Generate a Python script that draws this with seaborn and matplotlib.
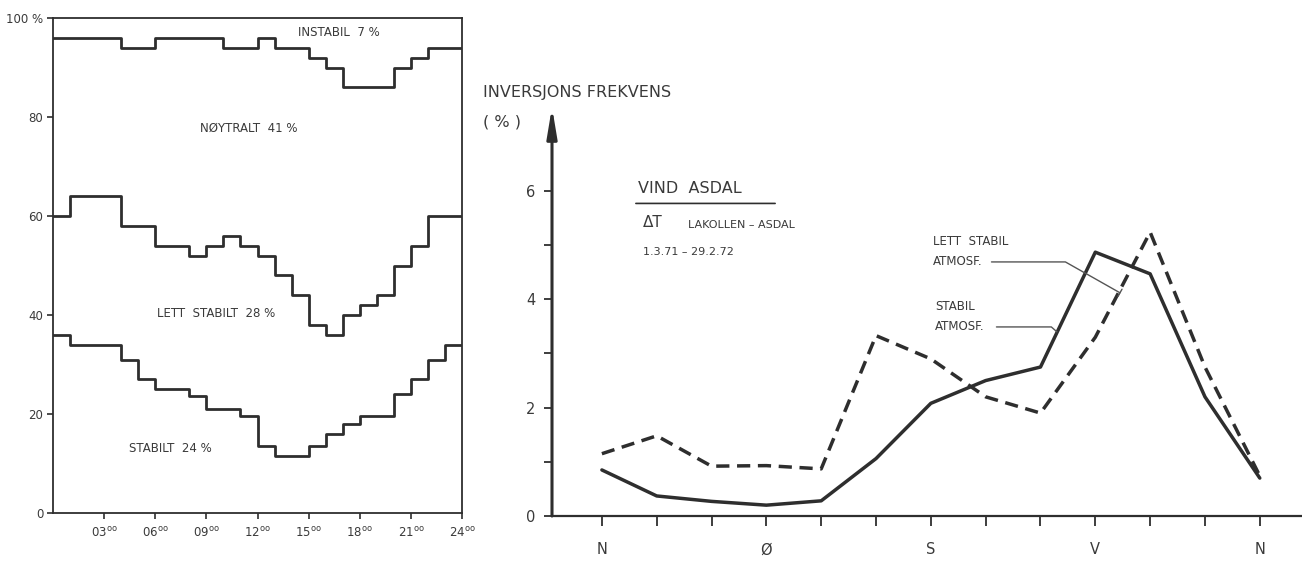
import matplotlib
matplotlib.use("Agg")
import matplotlib.pyplot as plt
import pandas as pd
import seaborn as sns

# ---------------- data: left panel (cumulative % boundaries per hour) ----------------
hours = list(range(24))
stabilt_top = [36, 34, 34, 34, 31, 27, 25, 25, 23.6, 21, 21, 19.5,
               13.5, 11.5, 11.5, 13.5, 16, 18, 19.5, 19.5, 24, 27, 31, 34]
lett_stabilt_top = [60, 64, 64, 64, 58, 58, 54, 54, 52, 54, 56, 54,
                    52, 48, 44, 38, 36, 40, 42, 44, 50, 54, 60, 60]
noytralt_top = [96, 96, 96, 96, 94, 94, 96, 96, 96, 96, 94, 94,
                96, 94, 94, 92, 90, 86, 86, 86, 90, 92, 94, 94]
hour_ticks = [3, 6, 9, 12, 15, 18, 21, 24]
hour_labels = ["03", "06", "09", "12", "15", "18", "21", "24"]
pct_ticks = [0, 20, 40, 60, 80, 100]
pct_labels = ["0", "20", "40", "60", "80", "100 %"]
class_names = ["INSTABIL  7 %", "NØYTRALT  41 %", "LETT  STABILT  28 %", "STABILT  24 %"]

# ---------------- data: right panel (inversion frequency by wind direction) ----------------
dir_pos = list(range(13))
dir_labels = ["N", "", "", "Ø", "", "", "S", "", "", "V", "", "", "N"]
stabil = [0.85, 0.37, 0.27, 0.2, 0.28, 1.06, 2.08, 2.5, 2.75, 4.87, 4.47, 2.2, 0.7]
lett_stabil = [1.15, 1.48, 0.92, 0.93, 0.87, 3.33, 2.9, 2.2, 1.9, 3.3, 5.24, 2.75, 0.74]
y_ticks = [0, 1, 2, 3, 4, 5, 6]
y_labels = ["0", "", "2", "", "4", "", "6"]

INK = "#2e2e2e"
TXT = "#3a3a3a"

sns.set_theme(style="white")
plt.rcParams["font.family"] = ["DejaVu Sans"]

fig = plt.figure(figsize=(13.02, 5.65), dpi=100)
fig.patch.set_facecolor("white")

# ---------------- left panel ----------------
ax1 = fig.add_axes([53 / 1302, 52 / 565, 409 / 1302, 495 / 565])
rows = []
for name, vals in [("stabilt", stabilt_top), ("lett", lett_stabilt_top), ("noytralt", noytralt_top)]:
    for h, v in zip(hours, vals):
        rows.append({"series": name, "hour": h, "value": v})
    rows.append({"series": name, "hour": 24, "value": vals[-1]})
df_left = pd.DataFrame(rows)
sns.lineplot(data=df_left, x="hour", y="value", units="series", estimator=None,
             drawstyle="steps-post", color=INK, lw=2.0, ax=ax1, legend=False)
ax1.set_xlim(0, 24)
ax1.set_ylim(0, 100)
ax1.set_xticks(hour_ticks)
ax1.set_xticklabels([f"{h}$^{{\\mathrm{{oo}}}}$" for h in hour_labels], fontsize=8.5, color=TXT)
ax1.set_yticks(pct_ticks)
ax1.set_yticklabels(pct_labels, fontsize=8.5, color=TXT)
ax1.tick_params(axis="both", direction="out", length=4, width=1.2, color=INK, pad=3,
                bottom=True, left=True)
ax1.tick_params(axis="x", pad=5)
ax1.set_xlabel("")
ax1.set_ylabel("")
for s in ax1.spines.values():
    s.set_color(INK)
    s.set_linewidth(1.3)

label_pos = [(16.8, 97.0), (11.5, 77.8), (9.6, 40.4), (6.9, 13.1)]
for name, (x, y) in zip(class_names, label_pos):
    ax1.text(x, y, name, ha="center", va="center", fontsize=8.5, color=TXT)

# ---------------- right panel ----------------
ax2 = fig.add_axes([552 / 1302, 49 / 565, 750 / 1302, 409 / 565])
df_right = pd.DataFrame({
    "dir": dir_pos * 2,
    "value": stabil + lett_stabil,
    "series": ["stabil"] * len(dir_pos) + ["lett"] * len(dir_pos),
})
sns.lineplot(data=df_right, x="dir", y="value", hue="series", style="series",
             palette={"stabil": INK, "lett": INK},
             dashes={"stabil": "", "lett": (3.8, 2.2)},
             lw=2.5, estimator=None, ax=ax2, legend=False)
ax2.set_xlim(-0.91, 12.77)
ax2.set_ylim(0, 7.55)
ax2.set_xticks(dir_pos)
ax2.set_xticklabels(dir_labels, fontsize=10.5, color=TXT)
ax2.set_yticks(y_ticks)
ax2.set_yticklabels(y_labels, fontsize=10.5, color=TXT)
ax2.tick_params(axis="x", direction="out", length=7, width=1.3, color=INK, pad=12, bottom=True)
ax2.tick_params(axis="y", direction="out", length=6, width=1.3, color=INK, pad=6, left=True)
ax2.set_xlabel("")
ax2.set_ylabel("")
for side in ["top", "right", "left"]:
    ax2.spines[side].set_visible(False)
ax2.spines["bottom"].set_color(INK)
ax2.spines["bottom"].set_linewidth(1.6)
ax2.annotate("", xy=(0, 1), xytext=(0, 0), xycoords="axes fraction",
             arrowprops=dict(arrowstyle="-|>,head_length=1.2,head_width=0.2",
                             lw=2.2, color=INK, shrinkA=0, shrinkB=0,
                             mutation_scale=15), annotation_clip=False)

fig.text(483 / 1302, 1 - 93 / 565, "INVERSJONS FREKVENS", fontsize=11.5,
         color=TXT, ha="left", va="center")
fig.text(483 / 1302, 1 - 122 / 565, "( % )", fontsize=11.5,
         color=TXT, ha="left", va="center")

ax2.text(0.66, 6.05, "VIND  ASDAL", fontsize=11.5, color=TXT, ha="left", va="center")
ax2.annotate("", xy=(3.16, 5.77), xytext=(0.62, 5.77),
             arrowprops=dict(arrowstyle="-", lw=1.2, color=INK, shrinkA=0, shrinkB=0))
ax2.text(0.75, 5.42, "ΔT", fontsize=11, color=TXT, ha="left", va="center")
ax2.text(1.57, 5.37, "LAKOLLEN – ASDAL", fontsize=8, color=TXT, ha="left", va="center")
ax2.text(0.75, 4.87, "1.3.71 – 29.2.72", fontsize=8, color=TXT, ha="left", va="center")

ax2.text(6.04, 5.06, "LETT  STABIL", fontsize=8.5, color=TXT, ha="left", va="center")
ax2.annotate("ATMOSF.", xy=(9.45, 4.12), xytext=(6.04, 4.69), fontsize=8.5, color=TXT,
             ha="left", va="center",
             arrowprops=dict(arrowstyle="-[,widthB=0.35,lengthB=0", lw=1.0, color="#555555",
                             connectionstyle="angle,angleA=0,angleB=-29.5,rad=0",
                             shrinkA=4, shrinkB=0))
ax2.text(6.08, 3.86, "STABIL", fontsize=8.5, color=TXT, ha="left", va="center")
ax2.annotate("ATMOSF.", xy=(8.3, 3.4), xytext=(6.08, 3.49), fontsize=8.5, color=TXT,
             ha="left", va="center",
             arrowprops=dict(arrowstyle="-", lw=1.0, color="#555555",
                             connectionstyle="angle,angleA=0,angleB=-41,rad=0",
                             shrinkA=6, shrinkB=0))

fig.savefig("out.png", dpi=100, facecolor="white")
